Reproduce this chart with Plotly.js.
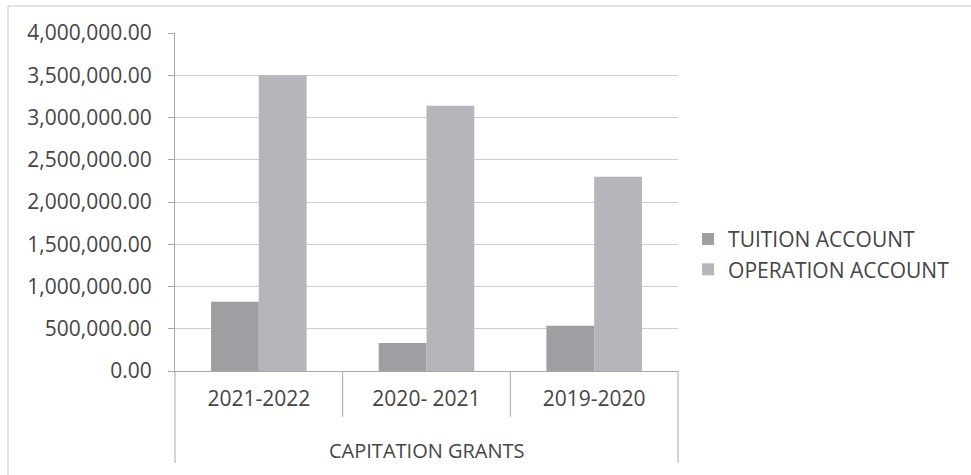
<!DOCTYPE html>
<html>
<head>
<meta charset="utf-8">
<script src="https://cdn.plot.ly/plotly-3.0.1.min.js"></script>
<style>
  html, body { margin: 0; padding: 0; background: #ffffff; }
  #chart { width: 971px; height: 475px; }
</style>
</head>
<body>
<div id="chart"></div>
<script>
const categories = ["2021-2022", "2020- 2021", "2019-2020"];
const groupLabel = "CAPITATION GRANTS";
const seriesNames = ["TUITION ACCOUNT", "OPERATION ACCOUNT"];
const tuition = [820000, 330000, 535000];
const operation = [3500000, 3140000, 2300000];
const yTickValues = [0, 500000, 1000000, 1500000, 2000000, 2500000, 3000000, 3500000, 4000000];

const textColor = "#454545";
const lineColor = "#a8a8a8";
const gridColor = "#cdcdcd";
const fontFam = "Open Sans, sans-serif";

const traces = [
  { type: "bar", name: seriesNames[0], x: categories, y: tuition,
    marker: { color: "#9e9ea3" }, hoverinfo: "y" },
  { type: "bar", name: seriesNames[1], x: categories, y: operation,
    marker: { color: "#b5b5bb" }, hoverinfo: "y" }
];

// axis decoration: category dividers and group box
const n = categories.length;
const shapes = [];
for (let i = 1; i < n; i++) {
  shapes.push({ type: "line", xref: "paper", yref: "paper", x0: i / n, x1: i / n, y0: 0, y1: -0.136,
    line: { color: lineColor, width: 1 } });
}
shapes.push({ type: "line", xref: "paper", yref: "paper", x0: 0, x1: 0, y0: 0, y1: -0.272, line: { color: lineColor, width: 1 } });
shapes.push({ type: "line", xref: "paper", yref: "paper", x0: 1, x1: 1, y0: 0, y1: -0.272, line: { color: lineColor, width: 1 } });
// outer chart frame (top and left edges visible in scan)
shapes.push({ type: "line", xref: "paper", yref: "paper", x0: -0.332, x1: 1.6, y0: 1.0799, y1: 1.0799, line: { color: "#c4c4c4", width: 1 } });
shapes.push({ type: "line", xref: "paper", yref: "paper", x0: -0.332, x1: -0.332, y0: 1.0799, y1: -0.32, line: { color: "#c4c4c4", width: 1 } });

const layout = {
  width: 971, height: 475,
  margin: { l: 175, r: 293, t: 33, b: 104 },
  paper_bgcolor: "#ffffff", plot_bgcolor: "#ffffff",
  font: { family: fontFam, color: textColor, size: 20 },
  barmode: "group", bargap: 0.43, bargroupgap: 0,
  showlegend: true,
  legend: { x: 1.02, xanchor: "left", y: 0.345, yanchor: "middle",
    font: { family: fontFam, size: 21, color: textColor }, bgcolor: "rgba(0,0,0,0)" },
  xaxis: {
    type: "category", range: [-0.5, n - 0.5],
    showline: true, linecolor: lineColor, linewidth: 1,
    showgrid: false, zeroline: false, ticks: "",
    tickfont: { family: fontFam, size: 21, color: textColor },
    ticklabelstandoff: 9
  },
  yaxis: {
    range: [0, 4000000], tickvals: yTickValues, tickformat: ",.2f",
    showline: true, linecolor: lineColor, linewidth: 1,
    showgrid: true, gridcolor: gridColor, gridwidth: 1,
    zeroline: false, ticks: "outside", ticklen: 6, tickcolor: lineColor,
    tickfont: { family: fontFam, size: 21, color: textColor },
    ticklabelstandoff: 12
  },
  shapes: shapes,
  annotations: [
    { text: groupLabel, xref: "paper", yref: "paper", x: 0.5, y: -0.234,
      xanchor: "center", yanchor: "middle", showarrow: false,
      font: { family: fontFam, size: 20, color: textColor } }
  ]
};

Plotly.newPlot("chart", traces, layout, { displayModeBar: false, staticPlot: true });
</script>
</body>
</html>
